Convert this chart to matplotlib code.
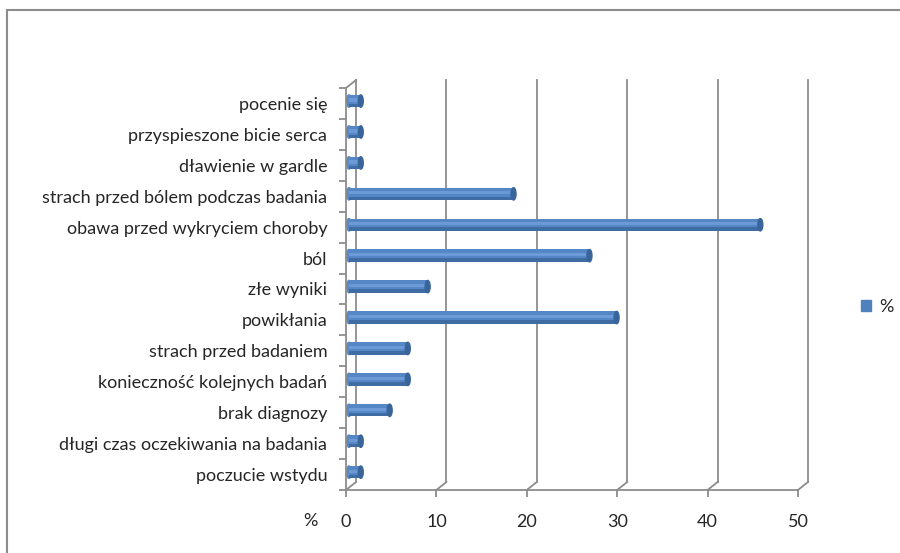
import matplotlib
matplotlib.use("Agg")
import matplotlib.pyplot as plt
import matplotlib.transforms as mtransforms
from matplotlib.patches import Ellipse, Patch, Rectangle
import numpy as np

plt.rcParams["font.family"] = ["Lato", "DejaVu Sans"]

# categories listed top to bottom as in the chart
categories = [
    "pocenie się",
    "przyspieszone bicie serca",
    "dławienie w gardle",
    "strach przed bólem podczas badania",
    "obawa przed wykryciem choroby",
    "ból",
    "złe wyniki",
    "powikłania",
    "strach przed badaniem",
    "konieczność kolejnych badań",
    "brak diagnozy",
    "długi czas oczekiwania na badania",
    "poczucie wstydu",
]
values = [1.3, 1.3, 1.3, 18.2, 45.5, 26.6, 8.7, 29.6, 6.5, 6.5, 4.5, 1.3, 1.3]
xticks = [0, 10, 20, 30, 40, 50]
series_name = "%"

BLUE = "#4F81BD"
GRID = "#8c8c8c"
TEXT = "#262626"

W, H, DPI = 900, 553, 100
fig = plt.figure(figsize=(W / DPI, H / DPI), dpi=DPI)

# outer chart border (left/top only visible)
fig.patches.append(Rectangle((7 / W, -0.1), 1.2, (H - 10) / H + 0.1,
                             transform=fig.transFigure, fill=False,
                             edgecolor="#8c8c8c", lw=1.5))

# front plane of the pseudo-3D chart
left, right, bottom, top = 346, 798, 490, 88
ax = fig.add_axes([left / W, (H - bottom) / H, (right - left) / W, (bottom - top) / H])
n = len(categories)
ypos = np.arange(n)
ax.set_xlim(0, 50)
ax.set_ylim(n - 0.5, -0.5)

def shift(dx, dy):
    return ax.transData + mtransforms.ScaledTranslation(dx / DPI, dy / DPI, fig.dpi_scale_trans)

wall = shift(10, 8)
barT = shift(3, 2.4)

# back wall gridlines and floor diagonals
for x in xticks:
    ax.plot([x, x], [n - 0.5, -0.5], color=GRID, lw=1.3, transform=wall, clip_on=False)
    ax.plot([x, x + 10 / 9.04], [n - 0.5, n - 0.5 - 8 / 30.9], color=GRID, lw=1.3, clip_on=False)
ax.plot([0, 10 / 9.04], [-0.5, -0.5 - 8 / 30.9], color=GRID, lw=1.3, clip_on=False)

# bars with a simple cylinder look
bh = 0.40
bars = ax.barh(ypos, values, height=bh, color="#5587c6", zorder=3)
dark = ax.barh(ypos + bh * 0.36, values, height=bh * 0.28, color="#3f6ca3", zorder=3)
light = ax.barh(ypos - bh * 0.08, values, height=bh * 0.26, color="#6c9ad6", zorder=3)
for cont in (bars, dark, light):
    for p in cont:
        p.set_transform(barT)
        p.set_clip_on(False)
cap_w = 5 / 9.04
for y, v in zip(ypos, values):
    ax.add_patch(Ellipse((v, y), cap_w, bh, color="#3a659a", zorder=4, transform=barT, clip_on=False))
    ax.add_patch(Ellipse((0, y), cap_w, bh, color="#5a8ac4", zorder=2, transform=barT, clip_on=False))

# axes styling
for s in ("top", "right"):
    ax.spines[s].set_visible(False)
for s in ("left", "bottom"):
    ax.spines[s].set_color(GRID)
    ax.spines[s].set_linewidth(1.3)
ax.set_xticks(xticks)
ax.tick_params(axis="x", length=5, color=GRID, width=1.3, pad=12, labelsize=13, labelcolor=TEXT)
ax.set_yticks(ypos)
ax.set_yticklabels(categories)
ax.tick_params(axis="y", length=0, pad=13.5, labelsize=13, labelcolor=TEXT)
ax.set_yticks(np.arange(n + 1) - 0.5, minor=True)
ax.tick_params(axis="y", which="minor", length=5, color=GRID, width=1.3)
ax.patch.set_visible(False)

ax.text(-36 / (right - left), 0, "%", transform=ax.transAxes, ha="center", va="top",
        fontsize=13, color=TEXT,
        )
ax.texts[-1].set_transform(ax.transAxes + mtransforms.ScaledTranslation(0, -23 / DPI, fig.dpi_scale_trans))

fig.legend(handles=[Patch(color=BLUE, label=series_name)], loc="center left",
           bbox_to_anchor=(845 / W, 1 - 307 / H), frameon=False, fontsize=13,
           handlelength=0.55, handleheight=0.55, handletextpad=0.45,
           labelcolor=TEXT)

fig.savefig("out.png", dpi=DPI)
